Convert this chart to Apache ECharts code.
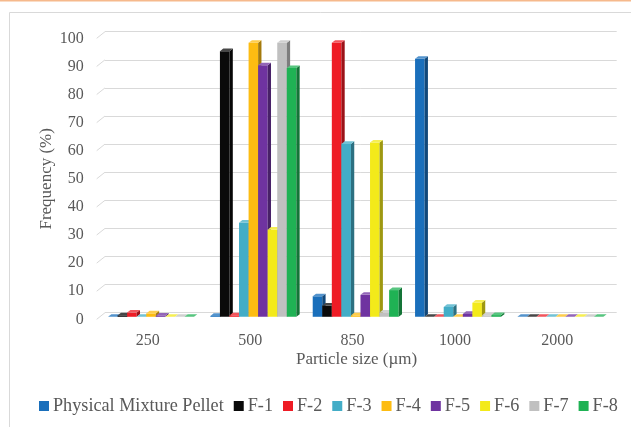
<!DOCTYPE html>
<html>
<head>
<meta charset="utf-8">
<script src="https://cdn.jsdelivr.net/npm/echarts@6/dist/echarts.min.js"></script>
<style>
  html, body { margin: 0; padding: 0; background: #ffffff; }
  #chart { width: 631px; height: 427px; }
</style>
</head>
<body>
<div id="chart"></div>
<script>
// Particle size classes (µm) on the category axis
const sizes = ['250', '500', '850', '1000', '2000'];
// Frequency axis ticks (%)
const freqTicks = [0, 10, 20, 30, 40, 50, 60, 70, 80, 90, 100];

// Frequency (%) of each formulation per size class
const names = ['Physical Mixture Pellet', 'F-1', 'F-2', 'F-3', 'F-4', 'F-5', 'F-6', 'F-7', 'F-8'];
const pmp = [0, 0.3, 7.3, 91.8, 0];
const f1  = [0.5, 94.5, 4, 0, 0];
const f2  = [1.5, 0.5, 97.5, 0, 0];
const f3  = [0, 33.5, 61.5, 3.5, 0];
const f4  = [1.2, 97.5, 0.5, 0, 0];
const f5  = [0.4, 89.5, 7.8, 1, 0];
const f6  = [0, 31, 62, 5, 0];
const f7  = [0, 97.5, 1.5, 0.5, 0];
const f8  = [0, 88.5, 9.5, 0.6, 0];
const values = [pmp, f1, f2, f3, f4, f5, f6, f7, f8];

const colors = ['#1a6fbb', '#0a0a0a', '#ee1c25', '#43adc7', '#fdbc12', '#6f33a0', '#f3ea1a', '#c0c0c0', '#1fb254'];

const FONT = '"Liberation Serif", serif';
const TXT = '#595959';

// Oblique depth of the floor / walls and of each column
const WALL_DX = 8.3, WALL_DY = -6.6;
const COL_OFF = 0.38;           // column front plane, fraction of the depth
const COL_DEPTH = 0.4;          // column thickness, fraction of the depth
const GROUP_FRAC = 0.84;        // share of a category band taken by a cluster

function shade(hex, amt) {
  const n = parseInt(hex.slice(1), 16);
  let r = (n >> 16) & 255, g = (n >> 8) & 255, b = n & 255;
  const f = c => amt < 0 ? Math.round(c * (1 + amt)) : Math.round(c + (255 - c) * amt);
  return 'rgb(' + f(r) + ',' + f(g) + ',' + f(b) + ')';
}

function columnRenderer(slot, color) {
  return function (params, api) {
    const cat = api.value(0), val = api.value(1);
    const base = api.coord([cat, 0]);
    const top = api.coord([cat, val]);
    const band = api.size([1, 0])[0];
    const group = band * GROUP_FRAC;
    const w = group / names.length;
    const ox = WALL_DX * COL_OFF, oy = WALL_DY * COL_OFF;
    const dx = WALL_DX * COL_DEPTH, dy = WALL_DY * COL_DEPTH;
    const x0 = base[0] - group / 2 + slot * w + ox;
    const yb = base[1] + oy;
    const yt = top[1] + oy;
    return {
      type: 'group',
      children: [
        { type: 'rect', shape: { x: x0, y: yt, width: w, height: Math.max(0, yb - yt) },
          style: { fill: color } },
        { type: 'polygon', shape: { points: [[x0 + w, yt], [x0 + w + dx, yt + dy], [x0 + w + dx, yb + dy], [x0 + w, yb]] },
          style: { fill: shade(color, -0.35) } },
        { type: 'polygon', shape: { points: [[x0, yt], [x0 + w, yt], [x0 + w + dx, yt + dy], [x0 + dx, yt + dy]] },
          style: { fill: shade(color, 0.25) } }
      ]
    };
  };
}

const columnSeries = names.map((name, k) => ({
  name: name,
  type: 'custom',
  xAxisIndex: 0,
  yAxisIndex: 0,
  itemStyle: { color: colors[k] },
  renderItem: columnRenderer(k, colors[k]),
  encode: { x: 0, y: 1 },
  clip: false,
  z: 5,
  data: values[k].map((v, i) => [i, v])
}));

// Side-wall strokes joining each tick label to its back-wall gridline
const wallSeries = {
  name: 'wall',
  type: 'custom',
  xAxisIndex: 0,
  yAxisIndex: 0,
  silent: true,
  z: 1,
  clip: false,
  encode: { y: 0 },
  renderItem: function (params, api) {
    const p = api.coord([0, api.value(0)]);
    const x = params.coordSys.x;
    return {
      type: 'line',
      shape: { x1: x, y1: p[1], x2: x + WALL_DX, y2: p[1] + WALL_DY },
      style: { stroke: '#d9d9d9', lineWidth: 1 }
    };
  },
  data: freqTicks.map(t => [t])
};

const chart = echarts.init(document.getElementById('chart'), null, { renderer: 'canvas' });

chart.setOption({
  backgroundColor: '#ffffff',
  animation: false,
  graphic: [
    { type: 'rect', shape: { x: 0, y: 0, width: 631, height: 1.5 }, style: { fill: '#f6b98c' }, silent: true },
    { type: 'rect', shape: { x: 9.5, y: 12.5, width: 700, height: 500 },
      style: { fill: 'none', stroke: '#d9d9d9', lineWidth: 1 }, silent: true, z: -1 }
  ],
  grid: [
    // front plane: labels and columns
    { left: 96.7, right: 22.6, top: 38.3, bottom: 107.7, containLabel: false },
    // back wall: gridlines
    { left: 105, right: 14.3, top: 31.7, bottom: 114.3, containLabel: false }
  ],
  legend: {
    data: names,
    bottom: 7,
    left: 34,
    icon: 'rect',
    itemWidth: 10,
    itemHeight: 10,
    itemGap: 10,
    textStyle: { fontFamily: FONT, fontSize: 18.2, color: TXT, padding: [0, 0, 0, -1] }
  },
  xAxis: [
    {
      type: 'category',
      gridIndex: 0,
      data: sizes,
      axisLine: { show: false },
      axisTick: { show: false },
      axisLabel: { fontFamily: FONT, fontSize: 16, color: TXT, margin: 13 },
      name: 'Particle size (µm)',
      nameLocation: 'middle',
      nameGap: 32,
      nameMoveOverlap: false,
      nameTextStyle: { fontFamily: FONT, fontSize: 17, color: TXT, padding: [0, 0, 0, 8] }
    },
    { type: 'value', gridIndex: 1, show: false, min: 0, max: 1 }
  ],
  yAxis: [
    {
      type: 'value',
      gridIndex: 0,
      min: 0,
      max: 100,
      interval: 10,
      axisLine: { show: false },
      axisTick: { show: false },
      splitLine: { show: false },
      axisLabel: { fontFamily: FONT, fontSize: 16, color: TXT, margin: 13 },
      name: 'Frequency (%)',
      nameLocation: 'middle',
      nameGap: 42,
      nameMoveOverlap: false,
      nameTextStyle: { fontFamily: FONT, fontSize: 17, color: TXT }
    },
    {
      type: 'value',
      gridIndex: 1,
      min: 0,
      max: 100,
      interval: 10,
      axisLine: { show: false },
      axisTick: { show: false },
      axisLabel: { show: false },
      splitLine: { show: true, lineStyle: { color: '#d9d9d9', width: 1 } }
    }
  ],
  series: [wallSeries].concat(columnSeries)
});
</script>
</body>
</html>
